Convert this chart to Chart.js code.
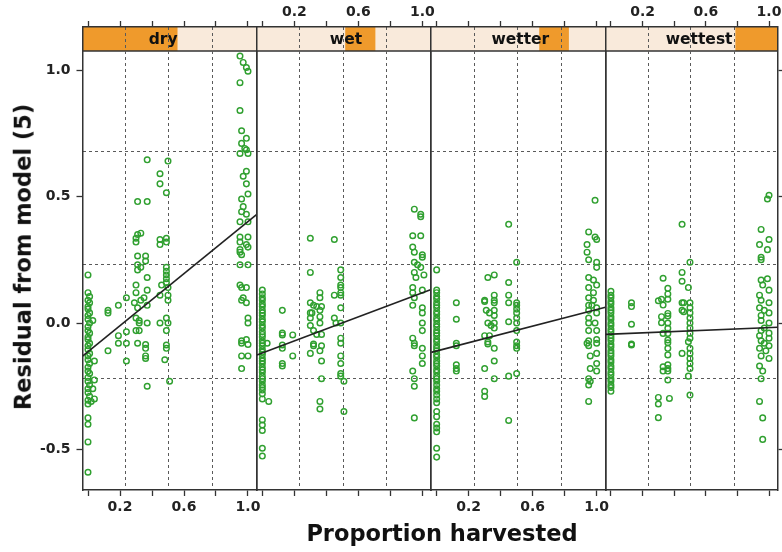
<!DOCTYPE html>
<html>
<head>
<meta charset="utf-8">
<script src="https://cdn.jsdelivr.net/npm/chart.js@4.4.1/dist/chart.umd.min.js"></script>
<style>
  body { margin: 0; background: #fff; }
  #wrap { position: relative; width: 782px; height: 552px; overflow: hidden; }
  #wrap canvas { position: absolute; left: 0; top: 0; }
  .title { position: absolute; white-space: nowrap; line-height: 1; color: #111;
           font-family: "DejaVu Sans", sans-serif; font-weight: bold; font-size: 22.5px; }
  #xtitle { left: 442px; top: 533px; transform: translate(-50%, -50%); }
  #ytitle { left: 23px; top: 257px; transform: translate(-50%, -50%) rotate(-90deg); }
</style>
</head>
<body>
<div id="wrap">
  <canvas id="p0" width="782" height="552"></canvas>
  <canvas id="p1" width="782" height="552"></canvas>
  <canvas id="p2" width="782" height="552"></canvas>
  <canvas id="p3" width="782" height="552"></canvas>
  <div class="title" id="xtitle">Proportion harvested</div>
  <div class="title" id="ytitle">Residual from model (5)</div>
</div>
<script>
// ---- data ----
const panelNames = ["dry", "wet", "wetter", "wettest"];
const xTicks = [0, 0.2, 0.4, 0.6, 0.8, 1.0];
const xTickLabels = ["", "0.2", "", "0.6", "", "1.0"];
const yTicks = [-0.5, 0, 0.5, 1.0];
const yTickLabels = ["-0.5", "0.0", "0.5", "1.0"];
const xRefLines = [0.235, 0.506, 0.779];
const yRefLines = [-0.218, 0.232, 0.678];

// fitted line, value at left and right edge of each panel
const fitX = [-0.034, 1.055];
const fitDry = [-0.131, 0.429];
const fitWet = [-0.126, 0.132];
const fitWetter = [-0.116, 0.062];
const fitWettest = [-0.045, -0.017];

const dry = [
  [0,0.19],[0,0.12],[0.01,0.105],[0,0.09],[0.01,0.08],[0,0.065],[0,0.055],[0.01,0.04],[0,0.03],[0,0.015],
  [0.01,0.0],[0,-0.015],[0,-0.03],[0.01,-0.04],[0,-0.055],[0,-0.065],[0.01,-0.08],[0,-0.09],[0,-0.105],
  [0.01,-0.12],[0,-0.13],[0,-0.145],[0.01,-0.16],[0,-0.175],[0,-0.19],[0.01,-0.2],[0,-0.215],[0,-0.23],
  [0.01,-0.245],[0,-0.26],[0,-0.275],[0.01,-0.29],[0,-0.305],[0,-0.32],[0,-0.375],[0,-0.4],[0,-0.47],[0,-0.59],
  [0.03,0.01],[0.04,-0.15],[0.04,-0.225],[0.03,-0.26],[0.04,-0.3],[0.02,-0.31],
  [0.125,0.05],[0.125,0.04],[0.125,-0.11],[0.19,0.07],[0.19,-0.05],[0.19,-0.08],
  [0.24,0.1],[0.24,-0.035],[0.24,-0.08],[0.24,-0.15],
  [0.37,0.645],[0.31,0.48],[0.37,0.48],[0.31,0.35],[0.33,0.355],[0.3,0.335],[0.3,0.32],[0.31,0.265],
  [0.36,0.265],[0.36,0.245],[0.31,0.23],[0.33,0.22],[0.31,0.21],[0.37,0.18],[0.3,0.15],[0.3,0.12],
  [0.37,0.13],[0.29,0.08],[0.33,0.09],[0.37,0.07],[0.31,0.06],[0.35,0.1],[0.3,0.02],[0.32,0.01],
  [0.32,0.0],[0.37,0.0],[0.3,-0.03],[0.32,-0.03],[0.31,-0.08],[0.36,-0.085],[0.36,-0.1],[0.36,-0.13],
  [0.36,-0.14],[0.37,-0.25],
  [0.45,0.59],[0.45,0.55],[0.5,0.64],[0.49,0.515],[0.45,0.33],[0.45,0.31],[0.49,0.335],[0.49,0.32],
  [0.49,0.22],[0.49,0.205],[0.49,0.19],[0.49,0.175],[0.49,0.16],[0.46,0.15],[0.45,0.11],[0.5,0.14],
  [0.5,0.11],[0.5,0.09],[0.49,0.02],[0.45,0.0],[0.5,0.0],[0.49,-0.03],[0.49,-0.087],[0.49,-0.1],
  [0.48,-0.145],[0.51,-0.23],
  [0.95,1.055],[0.97,1.03],[0.99,1.01],[1.0,0.995],[0.95,0.95],[0.95,0.84],[0.96,0.76],[0.99,0.73],
  [0.96,0.71],[0.98,0.69],[0.99,0.685],[0.95,0.67],[1.0,0.67],[0.97,0.58],[0.99,0.6],[0.99,0.55],
  [1.0,0.51],[0.96,0.49],[0.97,0.46],[0.96,0.44],[0.99,0.43],[0.95,0.4],[1.0,0.4],[0.95,0.34],
  [1.0,0.34],[0.95,0.32],[0.99,0.31],[0.95,0.29],[0.95,0.28],[0.96,0.27],[1.0,0.3],[0.95,0.23],
  [1.0,0.23],[0.95,0.15],[0.96,0.14],[0.99,0.14],[0.97,0.1],[0.96,0.09],[0.99,0.08],[1.0,0.02],
  [1.0,0.0],[0.96,-0.07],[0.99,-0.065],[0.96,-0.08],[1.0,-0.085],[0.96,-0.13],[1.0,-0.13],[0.96,-0.18]
];

const wet = [
  [0,0.13],[0,0.115],[0,0.1],[0,0.09],[0,0.075],[0,0.065],[0,0.05],[0,0.04],[0,0.03],[0,0.015],
  [0,0.005],[0,-0.01],[0,-0.02],[0,-0.035],[0,-0.045],[0,-0.055],[0,-0.07],[0,-0.08],[0,-0.09],
  [0,-0.105],[0,-0.115],[0,-0.125],[0,-0.14],[0,-0.15],[0,-0.16],[0,-0.175],[0,-0.185],[0,-0.195],
  [0,-0.21],[0,-0.22],[0,-0.23],[0,-0.245],[0,-0.255],[0,-0.265],[0,-0.28],[0,-0.3],
  [0,-0.383],[0,-0.403],[0,-0.425],[0,-0.495],[0,-0.526],[0.04,-0.31],[0.03,-0.08],
  [0.125,0.05],[0.125,-0.04],[0.125,-0.047],[0.125,-0.087],[0.125,-0.1],[0.125,-0.16],[0.125,-0.17],
  [0.19,-0.047],[0.19,-0.13],
  [0.3,0.335],[0.3,0.2],[0.36,0.12],[0.36,0.1],[0.3,0.08],[0.32,0.07],[0.34,0.065],[0.37,0.065],
  [0.3,0.04],[0.31,0.04],[0.36,0.05],[0.3,0.02],[0.36,0.025],[0.3,-0.01],[0.36,0.0],[0.32,-0.03],
  [0.34,-0.045],[0.37,-0.045],[0.32,-0.083],[0.3,-0.12],[0.36,-0.11],[0.37,-0.15],[0.37,-0.22],
  [0.36,-0.31],[0.36,-0.34],[0.32,-0.09],[0.37,-0.09],
  [0.45,0.33],[0.49,0.21],[0.49,0.18],[0.49,0.15],[0.49,0.14],[0.49,0.12],[0.49,0.11],[0.45,0.11],
  [0.49,0.06],[0.45,0.02],[0.46,0.0],[0.49,0.0],[0.49,-0.06],[0.49,-0.08],[0.49,-0.13],[0.49,-0.16],
  [0.49,-0.2],[0.49,-0.21],[0.51,-0.23],[0.51,-0.35],
  [0.95,0.45],[0.99,0.43],[0.99,0.42],[0.94,0.345],[0.99,0.345],[0.94,0.3],[0.95,0.28],[1.0,0.27],
  [1.0,0.26],[0.95,0.24],[0.97,0.23],[0.99,0.22],[0.95,0.2],[0.96,0.18],[1.01,0.19],[0.94,0.14],
  [0.94,0.12],[0.95,0.1],[1.0,0.13],[0.94,0.07],[1.0,0.06],[1.0,0.04],[1.0,0.0],[1.0,-0.03],
  [0.94,-0.06],[0.95,-0.08],[0.95,-0.09],[1.0,-0.1],[1.0,-0.13],[1.0,-0.16],[0.94,-0.19],
  [0.95,-0.22],[0.95,-0.25],[0.95,-0.375]
];

const wetter = [
  [0,0.21],[0,0.13],[0,0.12],[0,0.105],[0,0.095],[0,0.08],[0,0.07],[0,0.06],[0,0.045],[0,0.035],
  [0,0.02],[0,0.01],[0,-0.005],[0,-0.015],[0,-0.03],[0,-0.04],[0,-0.05],[0,-0.065],[0,-0.075],
  [0,-0.09],[0,-0.1],[0,-0.11],[0,-0.125],[0,-0.135],[0,-0.15],[0,-0.16],[0,-0.17],[0,-0.185],
  [0,-0.195],[0,-0.21],[0,-0.22],[0,-0.23],[0,-0.245],[0,-0.26],[0,-0.27],[0,-0.285],[0,-0.3],
  [0,-0.315],[0,-0.35],[0,-0.37],[0,-0.4],[0,-0.415],[0,-0.43],[0,-0.495],[0,-0.53],
  [0.123,0.08],[0.123,0.015],[0.123,-0.08],[0.123,-0.09],[0.123,-0.165],[0.123,-0.18],[0.123,-0.19],
  [0.32,0.18],[0.36,0.19],[0.3,0.09],[0.3,0.085],[0.36,0.11],[0.36,0.09],[0.36,0.08],[0.31,0.05],
  [0.33,0.04],[0.36,0.05],[0.36,0.03],[0.32,0.0],[0.36,0.0],[0.34,-0.01],[0.36,-0.02],[0.3,-0.05],
  [0.33,-0.05],[0.32,-0.075],[0.32,-0.083],[0.36,-0.1],[0.36,-0.15],[0.3,-0.18],[0.36,-0.22],
  [0.3,-0.27],[0.3,-0.29],
  [0.45,0.39],[0.5,0.24],[0.45,0.16],[0.45,0.11],[0.45,0.08],[0.45,0.005],[0.5,0.08],[0.5,0.07],
  [0.5,0.055],[0.5,0.04],[0.5,0.02],[0.5,0.0],[0.5,-0.03],[0.5,-0.075],[0.5,-0.09],[0.5,-0.1],
  [0.5,-0.2],[0.45,-0.21],[0.45,-0.385],
  [0.99,0.485],[0.95,0.36],[0.99,0.34],[1.0,0.33],[0.94,0.31],[0.94,0.28],[0.95,0.25],[1.0,0.24],
  [1.0,0.22],[0.95,0.18],[0.98,0.17],[0.95,0.14],[0.98,0.12],[1.0,0.15],[0.98,0.09],[0.95,0.1],
  [0.95,0.07],[0.97,0.07],[1.0,0.06],[0.95,0.05],[1.0,0.04],[0.95,0.02],[0.95,0.0],[0.99,0.0],
  [1.0,-0.03],[0.95,-0.03],[0.95,-0.07],[0.94,-0.08],[1.0,-0.08],[0.95,-0.09],[1.0,-0.065],
  [0.96,-0.13],[1.0,-0.12],[0.96,-0.18],[1.0,-0.16],[1.0,-0.19],[0.95,-0.22],[0.96,-0.23],
  [0.95,-0.245],[0.95,-0.31]
];

const wettest = [
  [0,0.125],[0,0.11],[0,0.1],[0,0.085],[0,0.075],[0,0.06],[0,0.05],[0,0.04],[0,0.025],[0,0.015],
  [0,0.0],[0,-0.01],[0,-0.025],[0,-0.035],[0,-0.05],[0,-0.06],[0,-0.07],[0,-0.085],[0,-0.095],
  [0,-0.11],[0,-0.12],[0,-0.13],[0,-0.145],[0,-0.155],[0,-0.17],[0,-0.18],[0,-0.195],[0,-0.205],
  [0,-0.22],[0,-0.23],[0,-0.245],[0,-0.255],[0,-0.27],
  [0.13,0.08],[0.13,0.065],[0.13,-0.005],[0.13,-0.083],[0.13,-0.087],
  [0.33,0.177],[0.36,0.137],[0.36,0.115],[0.36,0.094],[0.32,0.094],[0.3,0.088],[0.33,0.071],
  [0.36,0.038],[0.36,0.028],[0.32,0.025],[0.32,0.001],[0.36,0.0],[0.36,-0.021],[0.33,-0.041],
  [0.36,-0.041],[0.36,-0.067],[0.36,-0.078],[0.36,-0.1],[0.36,-0.126],[0.36,-0.165],[0.36,-0.18],
  [0.36,-0.19],[0.36,-0.225],[0.33,-0.173],[0.33,-0.19],[0.3,-0.294],[0.3,-0.32],[0.3,-0.374],
  [0.37,-0.298],
  [0.45,0.39],[0.5,0.24],[0.45,0.2],[0.45,0.165],[0.49,0.14],[0.45,0.08],[0.46,0.08],[0.5,0.08],
  [0.5,0.06],[0.5,0.04],[0.5,0.02],[0.5,0.0],[0.5,-0.02],[0.5,-0.04],[0.5,-0.06],[0.49,-0.074],
  [0.45,0.05],[0.46,0.045],[0.45,-0.12],[0.5,-0.1],[0.5,-0.12],[0.5,-0.14],[0.5,-0.16],[0.5,-0.18],
  [0.49,-0.21],[0.5,-0.285],
  [0.99,0.49],[1.0,0.505],[0.95,0.37],[1.0,0.33],[0.94,0.31],[0.99,0.29],[0.95,0.26],[0.95,0.25],
  [0.95,0.17],[0.99,0.175],[0.96,0.15],[1.0,0.13],[0.94,0.11],[0.95,0.09],[1.0,0.08],[0.94,0.06],
  [0.97,0.05],[1.0,0.04],[0.95,0.03],[0.95,0.01],[1.0,0.0],[0.97,-0.02],[0.95,-0.03],[1.0,-0.04],
  [0.94,-0.05],[1.0,-0.06],[0.95,-0.07],[0.97,-0.08],[1.0,-0.09],[0.94,-0.1],[0.98,-0.11],
  [0.95,-0.13],[1.0,-0.14],[0.94,-0.17],[0.96,-0.19],[0.95,-0.22],[0.94,-0.31],[0.96,-0.375],
  [0.96,-0.46]
];

const panelPoints = [dry, wet, wetter, wettest];
const panelFits = [fitDry, fitWet, fitWetter, fitWettest];

// ---- layout ----
const W = 782, H = 552;
const TOP = 27, BOTTOM = 490, STRIP_H = 24;
const LEFT0 = 82.5, PANEL_W = 174.33;
const XMIN = -0.0344, XMAX = 1.0552, YMIN = -0.66, YMAX = 1.17;
const stripOrange = [[0, 0.545], [0.507, 0.68], [0.62, 0.79], [0.754, 1]];
const stripTextShift = [-6.5, 2, 2, 7.5];
const TOP_AXIS_H = 27, BOTTOM_AXIS_H = 32, LEFT_AXIS_W = 52;

const tickFont = { family: "'DejaVu Sans', sans-serif", size: 14, weight: "bold" };
const frameColor = "#333";
const green = "#30a030";

function fixSize(w, h) {
  return (s) => {
    if (w !== null) s.width = w;
    if (h !== null) s.height = h;
    s.paddingLeft = 0; s.paddingRight = 0; s.paddingTop = 0; s.paddingBottom = 0;
  };
}

const stripPlugin = {
  id: "strip",
  beforeDraw(chart, args, opts) {
    const { ctx, chartArea: a } = chart;
    ctx.save();
    ctx.fillStyle = "#f9eadb";
    ctx.fillRect(a.left, a.top, a.width, STRIP_H);
    ctx.fillStyle = "#ef9a2c";
    const x1 = a.left + opts.from * a.width, x2 = a.left + opts.to * a.width;
    ctx.fillRect(x1, a.top, x2 - x1, STRIP_H);
    ctx.fillStyle = "#111";
    ctx.font = "bold 15.5px 'DejaVu Sans', sans-serif";
    ctx.textAlign = "center";
    ctx.textBaseline = "middle";
    ctx.fillText(opts.label, (a.left + a.right) / 2 + opts.shift, a.top + STRIP_H / 2 + 1);
    ctx.strokeStyle = frameColor;
    ctx.lineWidth = 1.5;
    ctx.beginPath();
    ctx.moveTo(a.left, a.top + STRIP_H);
    ctx.lineTo(a.right, a.top + STRIP_H);
    ctx.stroke();
    ctx.restore();
  }
};

function makePanel(p) {
  const left = LEFT0 + p * PANEL_W;
  const right = left + PANEL_W;
  const labelsBottom = p % 2 === 0;
  const yLeftW = p === 0 ? LEFT_AXIS_W : 0;

  const xAxis = (pos, showLabels) => ({
    type: "linear", position: pos, min: XMIN, max: XMAX,
    afterBuildTicks: (s) => { s.ticks = xTicks.map((v) => ({ value: v })); },
    ticks: {
      display: true, autoSkip: false, maxRotation: 0, font: tickFont, color: "#222",
      padding: pos === "top" ? 0 : 3,
      callback: (v, i) => (showLabels ? xTickLabels[i] : "")
    },
    grid: { drawOnChartArea: false, drawTicks: true, tickLength: 6, tickColor: frameColor, tickWidth: 1.3 },
    border: { display: true, color: frameColor, width: 1.5 },
    afterFit: fixSize(null, pos === "top" ? TOP_AXIS_H : BOTTOM_AXIS_H)
  });

  new Chart(document.getElementById("p" + p), {
    data: {
      datasets: [
        {
          type: "scatter",
          data: panelPoints[p].map((d) => ({ x: d[0], y: d[1] })),
          pointRadius: 2.8,
          pointHoverRadius: 2.8,
          pointBorderWidth: 1.45,
          borderColor: green,
          backgroundColor: "rgba(0,0,0,0)",
          order: 2
        },
        {
          type: "line",
          data: fitX.map((x, i) => ({ x: x, y: panelFits[p][i] })),
          borderColor: "#222",
          borderWidth: 1.6,
          pointRadius: 0,
          fill: false,
          order: 1
        }
      ]
    },
    options: {
      responsive: false,
      animation: false,
      events: [],
      layout: {
        padding: {
          left: left - yLeftW, right: W - right,
          top: TOP - TOP_AXIS_H, bottom: H - BOTTOM - BOTTOM_AXIS_H
        }
      },
      plugins: {
        legend: { display: false },
        tooltip: { enabled: false },
        strip: { label: panelNames[p], from: stripOrange[p][0], to: stripOrange[p][1], shift: stripTextShift[p] }
      },
      scales: {
        x: xAxis("bottom", labelsBottom),
        x2: xAxis("top", !labelsBottom),
        xg: {
          type: "linear", position: "bottom", min: XMIN, max: XMAX,
          afterBuildTicks: (s) => { s.ticks = xRefLines.map((v) => ({ value: v })); },
          ticks: { display: false },
          grid: { drawTicks: false, color: "#5a5a5a", lineWidth: 1 },
          border: { display: false, dash: [3, 3] },
          afterFit: fixSize(null, 0)
        },
        y: {
          type: "linear", position: "left", min: YMIN, max: YMAX,
          afterBuildTicks: (s) => { s.ticks = yTicks.map((v) => ({ value: v })); },
          ticks: {
            display: p === 0, autoSkip: false, font: tickFont, color: "#222", padding: 6,
            callback: (v, i) => yTickLabels[i]
          },
          grid: { drawOnChartArea: false, drawTicks: p === 0, tickLength: 6, tickColor: frameColor, tickWidth: 1.3 },
          border: { display: true, color: frameColor, width: 1.5 },
          afterFit: fixSize(yLeftW, null)
        },
        yr: {
          type: "linear", position: "right", min: YMIN, max: YMAX,
          afterBuildTicks: (s) => { s.ticks = yTicks.map((v) => ({ value: v })); },
          ticks: { display: false },
          grid: { drawOnChartArea: false, drawTicks: p === 3, tickLength: 6, tickColor: frameColor, tickWidth: 1.3 },
          border: { display: true, color: frameColor, width: 1.5 },
          afterFit: fixSize(0, null)
        },
        yg: {
          type: "linear", position: "left", min: YMIN, max: YMAX,
          afterBuildTicks: (s) => { s.ticks = yRefLines.map((v) => ({ value: v })); },
          ticks: { display: false },
          grid: { drawTicks: false, color: "#5a5a5a", lineWidth: 1 },
          border: { display: false, dash: [3, 3] },
          afterFit: fixSize(0, null)
        }
      }
    },
    plugins: [stripPlugin]
  });
}

for (let p = 0; p < 4; p++) makePanel(p);
</script>
</body>
</html>
